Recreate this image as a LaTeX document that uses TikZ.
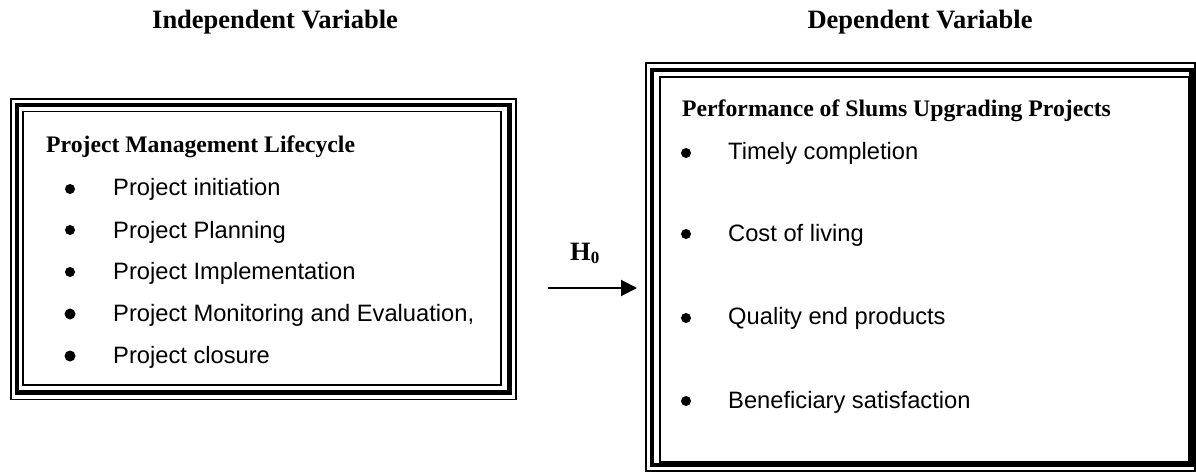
\documentclass[tikz,border=0pt]{standalone}
\usepackage{fontspec}
\setmainfont{Liberation Serif}
\newfontfamily\arialfont{Liberation Sans}
\usetikzlibrary{arrows.meta}
\tikzset{
  headtext/.style={font=\fontsize{26.5}{30}\selectfont\bfseries, inner sep=0pt, anchor=base west},
  titletext/.style={font=\fontsize{23.7}{27}\selectfont\bfseries, inner sep=0pt, anchor=base west},
  itemtext/.style={font=\arialfont\fontsize{23.7}{27}\selectfont, inner sep=0pt, anchor=base west},
  bulletdot/.style={circle, fill=black, inner sep=0pt, minimum size=10pt},
  outerline/.style={draw=black, line width=1.6pt},
  thickline/.style={draw=black, line width=4.4pt},
  innerline/.style={draw=black, line width=1.6pt},
  flowarrow/.style={line width=2pt, -{Triangle[length=16pt, width=16pt]}}
}
\begin{document}
\begin{tikzpicture}[x=1pt, y=-1pt]
\useasboundingbox (0,0) rectangle (1196,473);
% headers
\node[headtext] (hind) at (152,29) {Independent Variable};
\node[headtext, anchor=base] (hdep) at (920,29) {Dependent Variable};
% left box (thin-thick-thin)
\coordinate (lnw) at (11,99);
\coordinate (lse) at (516,399.5);
\draw[outerline] (lnw) rectangle (lse);
\draw[thickline] ([shift={(6,6)}]lnw) rectangle ([shift={(-6.5,-7)}]lse);
\draw[innerline] ([shift={(12,12.5)}]lnw) rectangle ([shift={(-15,-14.5)}]lse);
% right box
\coordinate (rnw) at (646,63);
\coordinate (rse) at (1195,471);
\draw[outerline] (rnw) rectangle (rse);
\draw[thickline] ([shift={(6,7)}]rnw) rectangle ([shift={(-3.5,-6)}]rse);
\draw[innerline] ([shift={(14,14)}]rnw) rectangle ([shift={(-6.5,-9)}]rse);
% left content
\node[titletext] (ltitle) at (46,153) {Project Management Lifecycle};
\node[bulletdot] (lb1) at (70,189) {};
\node[itemtext] (li1) at (113,196) {Project initiation};
\node[bulletdot] (lb2) at (70,230) {};
\node[itemtext] (li2) at (113,238) {Project Planning};
\node[bulletdot] (lb3) at (70,272) {};
\node[itemtext] (li3) at (113,279) {Project Implementation};
\node[bulletdot, minimum size=11pt] (lb4) at (70,314) {};
\node[itemtext] (li4) at (113,321) {Project Monitoring and Evaluation,};
\node[bulletdot, minimum size=11pt] (lb5) at (70,356) {};
\node[itemtext] (li5) at (113,363) {Project closure};
% right content
\node[titletext] (rtitle) at (682,117) {Performance of Slums Upgrading Projects};
\node[bulletdot] (rb1) at (686,153) {};
\node[itemtext] (ri1) at (728,160) {Timely completion};
\node[bulletdot] (rb2) at (686,234) {};
\node[itemtext] (ri2) at (728,241) {Cost of living};
\node[bulletdot] (rb3) at (686,318) {};
\node[itemtext] (ri3) at (728,324) {Quality end products};
\node[bulletdot] (rb4) at (686,401) {};
\node[itemtext] (ri4) at (728,408) {Beneficiary satisfaction};
% hypothesis arrow
\node[headtext] (hyp) at (570,260) {H\raisebox{-3pt}{\fontsize{17}{17}\selectfont 0}};
\coordinate (astart) at (548,288);
\coordinate (aend) at (637,288);
\draw[flowarrow] (astart) -- (aend);
\end{tikzpicture}
\end{document}
